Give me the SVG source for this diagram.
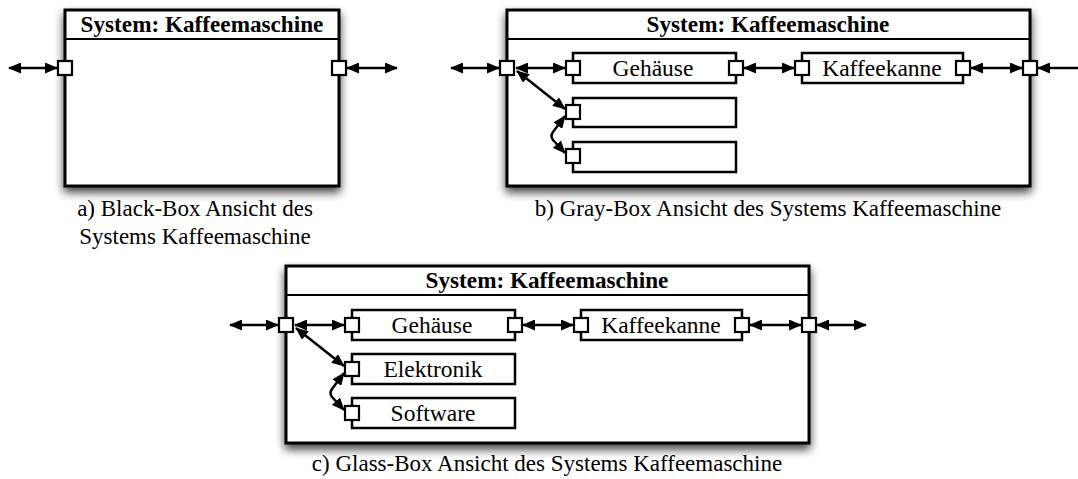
<svg xmlns="http://www.w3.org/2000/svg" width="1078" height="479" viewBox="0 0 1078 479">
<style>
.sys{fill:#fff;stroke:#000;stroke-width:3}
.hdr{stroke:#000;stroke-width:2}
.box{fill:#fff;stroke:#000;stroke-width:2.5}
.port{fill:#fff;stroke:#000;stroke-width:2.2}
.title{font-family:"Liberation Serif",serif;font-weight:bold;font-size:23.2px;text-anchor:middle;fill:#000}
.lbl{font-family:"Liberation Serif",serif;font-size:23.5px;text-anchor:middle;fill:#000}
.cap{font-family:"Liberation Serif",serif;font-size:23px;text-anchor:middle;fill:#000}
.con{fill:none;stroke:#000;stroke-width:2.5;marker-start:url(#ah);marker-end:url(#ah)}
</style>
<defs>
<marker id="ah" markerUnits="userSpaceOnUse" markerWidth="13" markerHeight="11" refX="12" refY="5.5" orient="auto-start-reverse" viewBox="0 0 13 11">
<path d="M0,0 L13,5.5 L0,11 z" fill="#000"/>
</marker>
<filter id="sh" x="-10%" y="-10%" width="120%" height="135%">
<feGaussianBlur in="SourceAlpha" stdDeviation="5"/>
<feOffset dx="0" dy="5" result="b"/>
<feComponentTransfer><feFuncA type="linear" slope="0.75"/></feComponentTransfer>
<feMerge><feMergeNode/><feMergeNode in="SourceGraphic"/></feMerge>
</filter>
</defs>

<!-- Panel a -->
<g id="sys-a">
<rect class="sys" x="65" y="10" width="274" height="176" filter="url(#sh)"/>
<line class="hdr" x1="65" y1="39" x2="339" y2="39"/>
<text class="title" x="202" y="32">System: Kaffeemaschine</text>
<rect class="port" x="58" y="61" width="14" height="14"/>
<rect class="port" x="332" y="61" width="14" height="14"/>
</g>
<text class="cap" x="195" y="216">a) Black-Box Ansicht des</text>
<text class="cap" x="195" y="244">Systems Kaffeemaschine</text>

<!-- Panel b -->
<g id="sys-b">
<rect class="sys" x="507" y="10" width="523" height="176" filter="url(#sh)"/>
<line class="hdr" x1="507" y1="39" x2="1030" y2="39"/>
<text class="title" x="768" y="32">System: Kaffeemaschine</text>
<rect class="port" x="500" y="61" width="14" height="14"/>
<rect class="port" x="1023" y="61" width="14" height="14"/>
</g>
<g id="b-gehaeuse">
<rect class="box" x="573" y="53" width="163" height="30"/>
<rect class="port" x="566" y="61" width="14" height="14"/>
<rect class="port" x="729" y="61" width="14" height="14"/>
<text class="lbl" x="653" y="76">Gehäuse</text>
</g>
<g id="b-kaffeekanne">
<rect class="box" x="802" y="53" width="161" height="30"/>
<rect class="port" x="795" y="61" width="14" height="14"/>
<rect class="port" x="956" y="61" width="14" height="14"/>
<text class="lbl" x="882" y="76">Kaffeekanne</text>
</g>
<g id="b-box2">
<rect class="box" x="573" y="98" width="163" height="29"/>
<rect class="port" x="566" y="105" width="14" height="14"/>
</g>
<g id="b-box3">
<rect class="box" x="573" y="142" width="163" height="30"/>
<rect class="port" x="566" y="149" width="14" height="14"/>
</g>
<text class="cap" x="768" y="216">b) Gray-Box Ansicht des Systems Kaffeemaschine</text>

<!-- Panel c -->
<g id="sys-c">
<rect class="sys" x="286" y="266" width="523" height="177" filter="url(#sh)"/>
<line class="hdr" x1="286" y1="295" x2="809" y2="295"/>
<text class="title" x="547" y="288">System: Kaffeemaschine</text>
<rect class="port" x="279" y="318" width="14" height="14"/>
<rect class="port" x="802" y="318" width="14" height="14"/>
</g>
<g id="c-gehaeuse">
<rect class="box" x="352" y="310" width="163" height="30"/>
<rect class="port" x="345" y="318" width="14" height="14"/>
<rect class="port" x="508" y="318" width="14" height="14"/>
<text class="lbl" x="432" y="333">Gehäuse</text>
</g>
<g id="c-kaffeekanne">
<rect class="box" x="581" y="310" width="161" height="30"/>
<rect class="port" x="574" y="318" width="14" height="14"/>
<rect class="port" x="735" y="318" width="14" height="14"/>
<text class="lbl" x="661" y="333">Kaffeekanne</text>
</g>
<g id="c-elektronik">
<rect class="box" x="352" y="354" width="163" height="30"/>
<rect class="port" x="345" y="362" width="14" height="14"/>
<text class="lbl" x="433" y="377">Elektronik</text>
</g>
<g id="c-software">
<rect class="box" x="352" y="398" width="163" height="30"/>
<rect class="port" x="345" y="406" width="14" height="14"/>
<text class="lbl" x="433" y="421">Software</text>
</g>
<text class="cap" x="547" y="471">c) Glass-Box Ansicht des Systems Kaffeemaschine</text>

<g id="connectors">
<line class="con" x1="9" y1="68" x2="57" y2="68"/>
<line class="con" x1="347" y1="68" x2="397" y2="68"/>

<line class="con" x1="451" y1="68" x2="499" y2="68"/>
<line class="con" x1="516" y1="68" x2="565" y2="68"/>
<line class="con" x1="744" y1="68" x2="794" y2="68"/>
<line class="con" x1="971" y1="68" x2="1022" y2="68"/>
<line class="con" x1="1038" y1="68" x2="1092" y2="68"/>
<line class="con" x1="517" y1="71" x2="565" y2="109"/>
<path class="con" d="M565,116 L553,132 Q550,136 553,140 L565,153"/>

<line class="con" x1="230" y1="325" x2="278" y2="325"/>
<line class="con" x1="295" y1="325" x2="344" y2="325"/>
<line class="con" x1="523" y1="325" x2="573" y2="325"/>
<line class="con" x1="750" y1="325" x2="801" y2="325"/>
<line class="con" x1="817" y1="325" x2="866" y2="325"/>
<line class="con" x1="296" y1="328" x2="344" y2="366"/>
<path class="con" d="M344,373 L332,389 Q329,393 332,397 L344,410"/>
</g>
</svg>
